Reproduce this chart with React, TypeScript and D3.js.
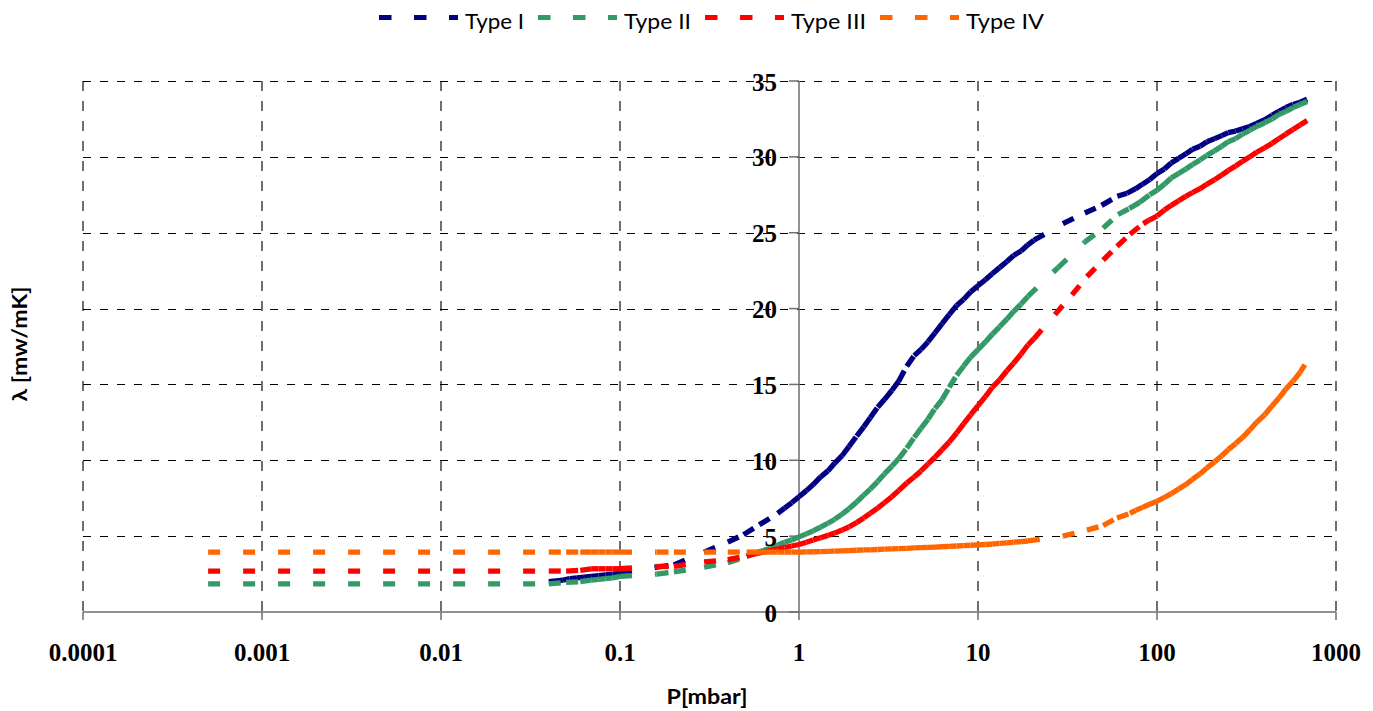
import * as d3 from "d3";

// pressure ticks (mbar) and labels
const pressureTicks = [0.0001, 0.001, 0.01, 0.1, 1, 10, 100, 1000];
const pressureLabels = ["0.0001", "0.001", "0.01", "0.1", "1", "10", "100", "1000"];
const lambdaTicks = [0, 5, 10, 15, 20, 25, 30, 35];

const seriesNames = ["Type I", "Type II", "Type III", "Type IV"];
const seriesColors = ["#000080", "#339966", "#FF0000", "#FF6600"];
const legendTextWidths = [59, 67, 75, 78];

// [P (mbar), lambda (mW/mK)]
const typeI: [number, number][] = [
  [0.04, 2.0], [0.044, 2.05], [0.048, 2.1], [0.0525, 2.2], [0.0575, 2.25], [0.063, 2.3], [0.069, 2.35],
  [0.076, 2.4], [0.083, 2.45], [0.091, 2.5], [0.1, 2.55],
  [0.16, 2.95], [0.2, 3.1], [0.295, 3.95], [0.4, 4.6], [0.49, 5.1], [0.6, 5.75], [0.76, 6.5],
  [0.83, 6.85], [0.91, 7.2], [1.0, 7.6], [1.1, 8.0], [1.2, 8.4], [1.32, 8.9], [1.45, 9.3], [1.58, 9.8],
  [1.74, 10.3], [1.9, 10.9], [2.1, 11.6], [2.3, 12.2], [2.5, 12.8], [2.75, 13.5], [3.0, 14.0], [3.3, 14.6],
  [3.6, 15.2], [4.0, 16.2], [4.4, 16.9], [4.8, 17.3], [5.25, 17.8], [5.75, 18.4], [6.3, 19.0], [6.9, 19.6],
  [7.6, 20.2], [8.3, 20.6], [9.1, 21.1], [10, 21.5], [11, 21.9], [12, 22.3], [13.2, 22.7], [14.5, 23.1],
  [15.8, 23.5], [17.4, 23.8], [19, 24.2], [20.5, 24.5],
  [29.8, 25.6], [39.5, 26.3], [49, 26.8], [60, 27.4], [68, 27.6], [76, 27.9], [83, 28.2], [91, 28.5],
  [100, 28.9], [110, 29.2], [120, 29.6], [132, 29.9], [145, 30.2], [158, 30.5], [174, 30.7], [190, 31.0],
  [210, 31.2], [230, 31.4], [250, 31.6], [275, 31.7], [300, 31.85], [330, 32.0], [360, 32.2], [400, 32.45],
  [440, 32.75], [480, 33.0], [525, 33.25], [575, 33.45], [630, 33.6], [690, 33.8],
];

const typeII: [number, number][] = [
  [0.0005, 1.85], [0.04, 1.85], [0.05, 1.95], [0.06, 2.0], [0.069, 2.1], [0.076, 2.15], [0.083, 2.2],
  [0.091, 2.25], [0.1, 2.35],
  [0.16, 2.5], [0.2, 2.65], [0.295, 2.95], [0.4, 3.25], [0.51, 3.65], [0.575, 3.9], [0.63, 4.05],
  [0.69, 4.2], [0.76, 4.4], [0.83, 4.6], [0.91, 4.75], [1.0, 4.95], [1.1, 5.15], [1.2, 5.35], [1.32, 5.6],
  [1.45, 5.85], [1.58, 6.1], [1.74, 6.45], [1.9, 6.8], [2.1, 7.25], [2.3, 7.7], [2.5, 8.1], [2.75, 8.6],
  [3.0, 9.1], [3.3, 9.6], [3.6, 10.1], [4.0, 10.8], [4.4, 11.5], [4.8, 12.1], [5.25, 12.7], [5.75, 13.4],
  [6.3, 14.0], [6.9, 14.8], [7.6, 15.6], [8.3, 16.2], [9.1, 16.8], [10, 17.3], [11, 17.8], [12, 18.3],
  [13.2, 18.8], [14.5, 19.3], [15.8, 19.8], [17.4, 20.3], [19, 20.8],
  [28, 22.7], [39.6, 24.4], [50, 25.3], [60.6, 26.2], [70, 26.6], [80, 27.0], [91, 27.5], [100, 27.8],
  [110, 28.2], [120, 28.6], [132, 28.9], [145, 29.2], [158, 29.5], [174, 29.8], [190, 30.1], [210, 30.4],
  [230, 30.7], [250, 31.0], [275, 31.2], [300, 31.5], [330, 31.75], [360, 32.0], [400, 32.25], [440, 32.5],
  [480, 32.8], [525, 33.0], [575, 33.25], [630, 33.45], [690, 33.65],
];

const typeIII: [number, number][] = [
  [0.0005, 2.7], [0.04, 2.7], [0.05, 2.7], [0.06, 2.75], [0.069, 2.85], [0.076, 2.85], [0.083, 2.85],
  [0.091, 2.85], [0.1, 2.85],
  [0.16, 3.0], [0.2, 3.0], [0.295, 3.3], [0.4, 3.45], [0.51, 3.7], [0.575, 3.85], [0.63, 3.95],
  [0.69, 4.05], [0.76, 4.15], [0.83, 4.25], [0.91, 4.35], [1.0, 4.45], [1.1, 4.6], [1.2, 4.75], [1.32, 4.9],
  [1.45, 5.05], [1.58, 5.2], [1.74, 5.4], [1.9, 5.6], [2.1, 5.9], [2.3, 6.2], [2.5, 6.5], [2.75, 6.85],
  [3.0, 7.2], [3.3, 7.6], [3.6, 8.0], [4.0, 8.5], [4.4, 8.9], [4.8, 9.3], [5.25, 9.75], [5.75, 10.2],
  [6.3, 10.7], [6.9, 11.2], [7.6, 11.8], [8.3, 12.4], [9.1, 13.0], [10, 13.6], [11, 14.2], [12, 14.8],
  [13.2, 15.3], [14.5, 15.9], [15.8, 16.4], [17.4, 17.0], [19, 17.6], [20.5, 18.0],
  [26.9, 19.6], [33.5, 20.9], [40.6, 22.1], [50, 23.2], [59.8, 24.1], [70.6, 24.9], [83.8, 25.6],
  [91, 25.85], [100, 26.1], [110, 26.5], [120, 26.8], [132, 27.1], [145, 27.4], [158, 27.65], [174, 27.9],
  [190, 28.2], [210, 28.5], [230, 28.8], [250, 29.1], [275, 29.4], [300, 29.7], [330, 30.0], [360, 30.3],
  [400, 30.6], [440, 30.9], [480, 31.2], [525, 31.5], [575, 31.8], [630, 32.1], [690, 32.4],
];

const typeIV: [number, number][] = [
  [0.0005, 3.95], [0.04, 3.95], [0.05, 3.95], [0.06, 3.95], [0.069, 3.95], [0.076, 3.95], [0.083, 3.95],
  [0.091, 3.95], [0.1, 3.95],
  [0.16, 3.95], [0.2, 3.95], [0.295, 3.95], [0.4, 3.95], [0.51, 3.95], [0.575, 3.95], [0.63, 3.95],
  [0.69, 3.95], [0.76, 3.95], [0.83, 3.95], [0.91, 3.95], [1.0, 3.95], [1.1, 3.96], [1.2, 3.97],
  [1.32, 3.98], [1.45, 4.0], [1.58, 4.01], [1.74, 4.03], [1.9, 4.05], [2.1, 4.07], [2.3, 4.09], [2.5, 4.1],
  [2.75, 4.12], [3.0, 4.14], [3.3, 4.16], [3.6, 4.18], [4.0, 4.2], [4.4, 4.22], [4.8, 4.24], [5.25, 4.26],
  [5.75, 4.28], [6.3, 4.3], [6.9, 4.32], [7.6, 4.35], [8.3, 4.37], [9.1, 4.4], [10, 4.42], [11, 4.45],
  [12, 4.48], [13.2, 4.52], [14.5, 4.56], [15.8, 4.6], [17.4, 4.64], [19, 4.68],
  [29.8, 5.0], [40.6, 5.4], [50, 5.7], [59.8, 6.2], [70.6, 6.5], [76, 6.7], [83, 6.9], [91, 7.1],
  [100, 7.3], [110, 7.55], [120, 7.8], [132, 8.1], [145, 8.4], [158, 8.75], [174, 9.1], [190, 9.5],
  [210, 9.9], [230, 10.3], [250, 10.7], [275, 11.1], [300, 11.5], [330, 12.0], [360, 12.5], [400, 13.0],
  [440, 13.6], [480, 14.1], [525, 14.7], [575, 15.2], [630, 15.8], [670, 16.3],
];

const allSeries = [typeI, typeII, typeIII, typeIV];

const width = 1373;
const height = 711;
const plotLeft = 83;
const plotRight = 1336;
const plotTop = 81;
const plotBottom = 612;

const serif = "'Liberation Serif', 'Times New Roman', serif";
const sans = "Lato, 'Open Sans', sans-serif";

// snap 1px lines onto the pixel grid
const crisp = (v: number) => Math.round(v) + 0.5;

export default function App() {
  const x = d3.scaleLog().domain([0.0001, 1000]).range([plotLeft, plotRight]);
  const y = d3.scaleLinear().domain([0, 35]).range([plotBottom, plotTop]);
  const axisX = x(1);

  // legend layout
  const legendLine = 79;
  let cursor = 379;
  const legendItems = seriesNames.map((name, i) => {
    const item = { name, color: seriesColors[i], x0: cursor, tx: cursor + legendLine + 7, w: legendTextWidths[i] };
    cursor = item.tx + item.w + 14;
    return item;
  });

  return (
    <svg width={width} height={height} style={{ position: "absolute", left: 0, top: 0, background: "#fff" }}>
      {/* vertical grid */}
      {pressureTicks.filter(t => t !== 1).map(t => (
        <line key={"vg" + t} x1={Math.round(x(t))} x2={Math.round(x(t))} y1={plotTop} y2={plotBottom}
          stroke="#6e6e6e" strokeWidth={2} strokeDasharray="10 10" />
      ))}
      {/* horizontal grid */}
      {lambdaTicks.filter(t => t !== 0).map(t => (
        <line key={"hg" + t} x1={plotLeft} x2={plotRight} y1={crisp(y(t))} y2={crisp(y(t))}
          stroke="#000" strokeWidth={1} strokeDasharray="8 9" />
      ))}

      {/* axes */}
      <line x1={plotLeft} x2={plotRight} y1={plotBottom} y2={plotBottom} stroke="#6e6e6e" strokeWidth={1.5} />
      {pressureTicks.map(t => (
        <line key={"xt" + t} x1={x(t)} x2={x(t)} y1={plotBottom} y2={plotBottom + 8} stroke="#6e6e6e" strokeWidth={1.5} />
      ))}
      <line x1={axisX} x2={axisX} y1={plotTop} y2={plotBottom} stroke="#6e6e6e" strokeWidth={1.5} />
      {lambdaTicks.map(t => (
        <line key={"yt" + t} x1={axisX - 10} x2={axisX} y1={y(t)} y2={y(t)} stroke="#6e6e6e" strokeWidth={1.5} />
      ))}

      {/* series: each segment dashed on its own, like the original */}
      {allSeries.map((pts, si) => (
        <g key={"s" + si}>
          {d3.pairs(pts).map(([a, b], i) => (
            <line key={i} x1={x(a[0])} y1={y(a[1])} x2={x(b[0])} y2={y(b[1])}
              stroke={seriesColors[si]} strokeWidth={5.3} strokeDasharray="12 23" />
          ))}
        </g>
      ))}

      {/* tick labels */}
      {lambdaTicks.map(t => (
        <text key={"yl" + t} x={777} y={y(t) + 9.5} textAnchor="end"
          fontFamily={serif} fontWeight="bold" fontSize={25} fill="#000">{t}</text>
      ))}
      {pressureTicks.map((t, i) => (
        <text key={"xl" + t} x={x(t)} y={661} textAnchor="middle"
          fontFamily={serif} fontWeight="bold" fontSize={25} fill="#000">{pressureLabels[i]}</text>
      ))}

      {/* axis titles */}
      <text x={707} y={704} textAnchor="middle" fontFamily={sans} fontWeight="bold" fontSize={20}
        textLength={81} lengthAdjust="spacingAndGlyphs">P[mbar]</text>
      <text transform="translate(27,344) rotate(-90)" textAnchor="middle" fontFamily={sans} fontWeight="bold"
        fontSize={20} textLength={115} lengthAdjust="spacingAndGlyphs">λ [mw/mK]</text>

      {/* legend */}
      {legendItems.map(it => (
        <g key={it.name}>
          <line x1={it.x0} x2={it.x0 + legendLine} y1={17.5} y2={17.5} stroke={it.color} strokeWidth={5}
            strokeDasharray="12.5 22.5" />
          <text x={it.tx} y={29} fontFamily={sans} fontSize={21} fill="#000"
            textLength={it.w} lengthAdjust="spacingAndGlyphs">{it.name}</text>
        </g>
      ))}
    </svg>
  );
}
